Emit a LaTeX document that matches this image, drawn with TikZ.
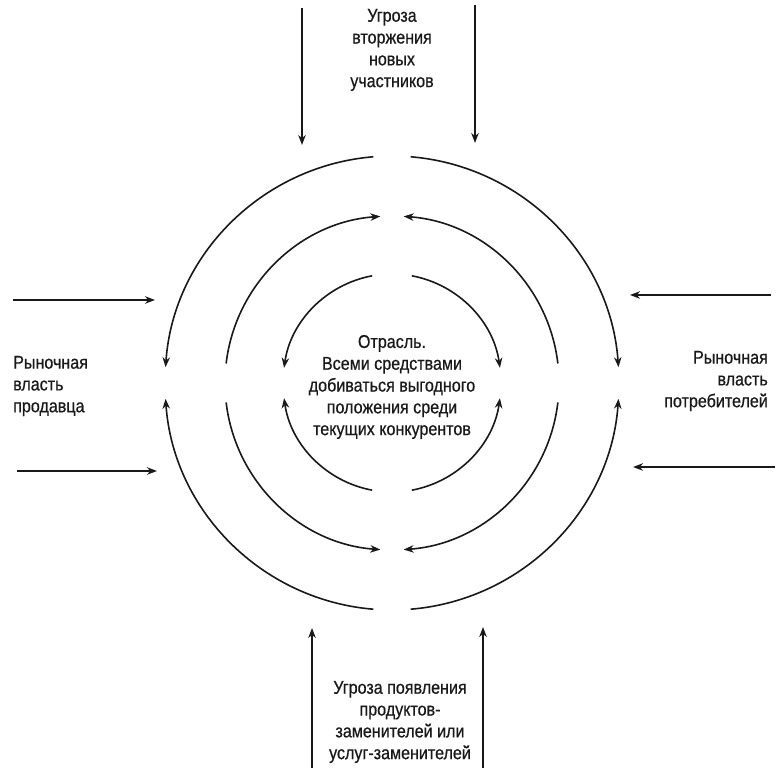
\documentclass[tikz,border=0pt]{standalone}
\usepackage{fontspec}
\setmainfont{Liberation Sans}[FakeStretch=0.87,FakeBold=0.6]
\usetikzlibrary{arrows.meta,calc}
\begin{document}
\begin{tikzpicture}[x=1pt,y=1pt,
  ln/.style={line width=1.6pt,draw=black!90},
  arr/.style={ln,-{Stealth[length=10pt,width=7.5pt]}},
  lbl/.style={font=\fontsize{18.5}{21.8}\selectfont,inner sep=0pt,text=black!90}]
\useasboundingbox (0,0) rectangle (783,773);
\coordinate (C) at (392,390);
% outer circle (tips at left/right)
\def\ro{227pt}
\draw[arr] ($(C)+(94.7:\ro)$) arc[start angle=94.7,end angle=176,radius=\ro];
\draw[arr] ($(C)+(265.3:\ro)$) arc[start angle=265.3,end angle=184,radius=\ro];
\draw[arr] ($(C)+(85.3:\ro)$) arc[start angle=85.3,end angle=4,radius=\ro];
\draw[arr] ($(C)+(274.7:\ro)$) arc[start angle=274.7,end angle=356,radius=\ro];
% middle circle (tips at top/bottom)
\def\rm{167pt}
\draw[arr] ($(C)+(173.3:\rm)$) arc[start angle=173.3,end angle=94,radius=\rm];
\draw[arr] ($(C)+(6.7:\rm)$) arc[start angle=6.7,end angle=86,radius=\rm];
\draw[arr] ($(C)+(186.7:\rm)$) arc[start angle=186.7,end angle=266,radius=\rm];
\draw[arr] ($(C)+(353.3:\rm)$) arc[start angle=353.3,end angle=274,radius=\rm];
% inner circle (tips at left/right)
\def\ri{109pt}
\draw[arr] ($(C)+(100.5:\ri)$) arc[start angle=100.5,end angle=172,radius=\ri];
\draw[arr] ($(C)+(259.5:\ri)$) arc[start angle=259.5,end angle=188,radius=\ri];
\draw[arr] ($(C)+(79.5:\ri)$) arc[start angle=79.5,end angle=8,radius=\ri];
\draw[arr] ($(C)+(280.5:\ri)$) arc[start angle=280.5,end angle=352,radius=\ri];
% labels
\node[lbl,align=center] (ctr) at (392,386) {Отрасль.\\Всеми средствами\\добиваться выгодного\\положения среди\\текущих конкурентов};
\node[lbl,align=center] (top) at (392,723) {Угроза\\вторжения\\новых\\участников};
\node[lbl,align=center] (bot) at (400,51) {Угроза появления\\продуктов-\\заменителей или\\услуг-заменителей};
\node[lbl,align=left,anchor=west] (lft) at (13,387) {Рыночная\\власть\\продавца};
\node[lbl,align=right,anchor=east] (rgt) at (768,392) {Рыночная\\власть\\потребителей};
% straight arrows
\coordinate (t1s) at (302,765); \coordinate (t1e) at (302,628);
\coordinate (t2s) at (475,768); \coordinate (t2e) at (475,630);
\coordinate (b1s) at (312,5);   \coordinate (b1e) at (312,145);
\coordinate (b2s) at (483,5);   \coordinate (b2e) at (483,146);
\coordinate (l1s) at (13,473);  \coordinate (l1e) at (155,473);
\coordinate (l2s) at (17,302);  \coordinate (l2e) at (157,302);
\coordinate (r1s) at (771,478); \coordinate (r1e) at (630,478);
\coordinate (r2s) at (775,306); \coordinate (r2e) at (633,306);
\foreach \a in {t1,t2,b1,b2,l1,l2,r1,r2} \draw[arr] (\a s) -- (\a e);
\end{tikzpicture}
\end{document}
